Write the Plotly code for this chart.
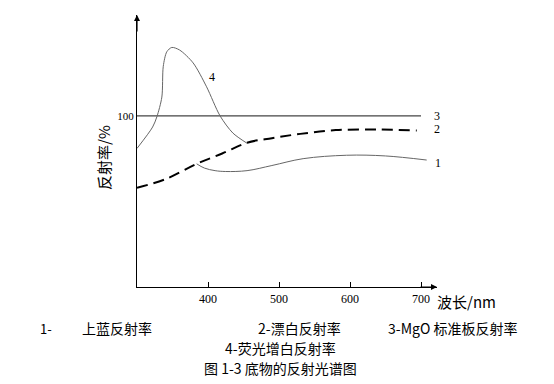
import plotly.graph_objects as go

# wavelength (nm) / reflectance (%)
c1_x = [384, 395, 410, 425, 455, 490, 534, 595, 650, 708]
c1_y = [72, 69.5, 68, 67.5, 68, 71, 75, 77, 76.6, 74.2]
c2_x = [300, 340, 384, 420, 455, 490, 530, 580, 640, 694]
c2_y = [58, 63, 72, 78, 84.3, 87, 89.5, 91.7, 92, 91.5]
c3_x = [300, 700]
c3_y = [100, 100]
c4_x = [300, 322, 328, 335, 337, 342, 349, 360, 379, 398, 417, 435, 455]
c4_y = [81, 93.5, 99.5, 111, 129, 137.5, 140, 138.5, 131, 117, 100, 90, 84]
x_ticks = [400, 500, 600, 700]
y_ticks = [100]

W, H = 554, 384
L, R, T, B = 137, 437, 15, 287
XR = [300, 300 + (R - L) / 0.71]
YR = [0, (B - T) / 1.711]

serif = "Liberation Serif, DejaVu Serif, serif"
cjk = "Noto Sans CJK SC, sans-serif"

fig = go.Figure()
fig.add_trace(go.Scatter(x=c3_x, y=c3_y, mode="lines", line=dict(color="#444", width=1.2)))
fig.add_trace(go.Scatter(x=c2_x, y=c2_y, mode="lines", line=dict(color="black", width=2, dash="11px,6px", shape="spline")))
fig.add_trace(go.Scatter(x=c1_x, y=c1_y, mode="lines", line=dict(color="#666", width=1, shape="spline")))
fig.add_trace(go.Scatter(x=c4_x, y=c4_y, mode="lines", line=dict(color="#666", width=1, shape="spline", smoothing=0.8)))

def px(x, y):
    return (x - L) / (R - L), (B - y) / (B - T)

def text(s, x, y, size=13, font=cjk, anchor="center", angle=0):
    xp, yp = px(x, y)
    fig.add_annotation(text=s, x=xp, y=yp, xref="paper", yref="paper", showarrow=False,
                       xanchor=anchor, yanchor="middle", textangle=angle,
                       font=dict(family=font, size=size, color="black"))

# axis arrows
fig.add_annotation(x=XR[0], y=YR[1], xref="x", yref="y", ax=0, ay=18, text="",
                   showarrow=True, arrowhead=2, arrowsize=1, arrowwidth=1.2, arrowcolor="black")
fig.add_annotation(x=XR[1], y=0, xref="x", yref="y", ax=-18, ay=0, text="",
                   showarrow=True, arrowhead=2, arrowsize=1, arrowwidth=1.2, arrowcolor="black")

# curve labels
text("3", 437, 116, 12, serif)
text("2", 437, 129, 12, serif)
text("1", 438, 163, 12, serif)
text("4", 212, 77, 12, serif)

text("反射率/%", 103, 158, 15, cjk, angle=-90)
text("波长/nm", 466, 301, 15, cjk)
text("1-", 46, 328, 13)
text("上蓝反射率", 117, 328, 14)
text("2-漂白反射率", 299, 328, 14)
text("3-MgO 标准板反射率", 453, 328, 14)
text("4-荧光增白反射率", 280, 348, 14)
text("图 1-3 底物的反射光谱图", 280, 368, 14)

fig.update_layout(
    width=W, height=H, showlegend=False,
    margin=dict(l=L, r=W - R, t=T, b=H - B),
    paper_bgcolor="white", plot_bgcolor="white",
    xaxis=dict(range=XR, tickvals=x_ticks, ticks="inside", ticklen=5, tickcolor="black",
               showgrid=False, zeroline=False, showline=True, linecolor="black", linewidth=1.2,
               tickfont=dict(family=serif, size=12, color="black")),
    yaxis=dict(range=YR, tickvals=y_ticks, ticks="", showgrid=False, zeroline=False,
               showline=True, linecolor="black", linewidth=1.2,
               tickfont=dict(family=serif, size=11, color="black")),
)
fig.write_html("out.html", config={"displayModeBar": False},
               post_script="document.body.style.margin='0';document.body.style.overflow='hidden';")
